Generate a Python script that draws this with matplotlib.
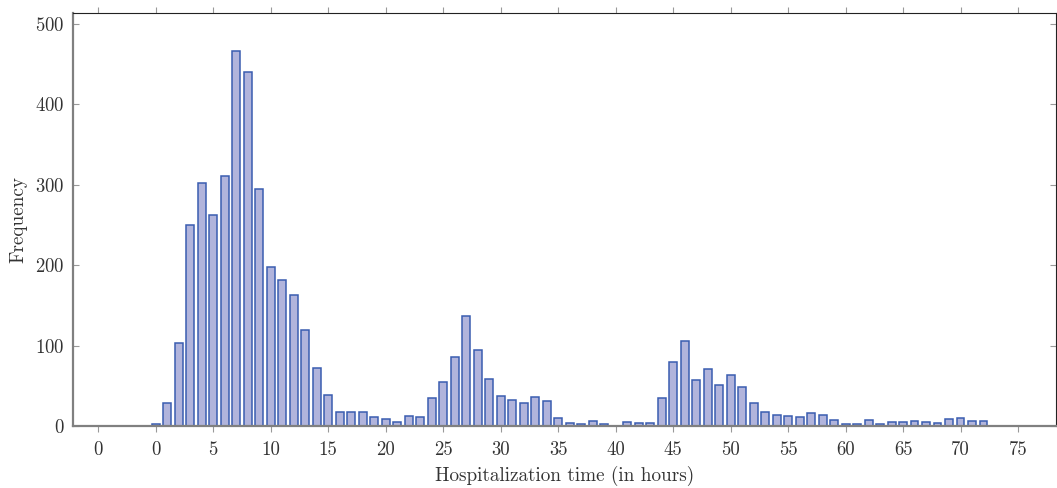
import matplotlib
matplotlib.use("Agg")
import matplotlib.pyplot as plt
import numpy as np

hours = list(range(0, 73))
freq = [3, 29, 103, 250, 302, 262, 311, 466, 440, 294,
        198, 181, 163, 119, 72, 39, 18, 17, 17, 11,
        9, 5, 12, 11, 35, 55, 86, 137, 95, 59,
        37, 32, 29, 36, 31, 10, 4, 2, 6, 3,
        0, 5, 4, 4, 35, 79, 106, 57, 71, 51,
        64, 48, 28, 17, 14, 12, 11, 16, 14, 7,
        3, 2, 7, 3, 5, 5, 6, 5, 4, 9,
        10, 6, 6]
xtick_pos = list(range(-5, 80, 5))
xtick_labels = ["0", "0", "5", "10", "15", "20", "25", "30", "35", "40",
                "45", "50", "55", "60", "65", "70", "75"]
ytick_pos = [0, 100, 200, 300, 400, 500]

plt.rcParams['font.family'] = ['cmr10', 'DejaVu Serif']
plt.rcParams['axes.formatter.use_mathtext'] = True

fig = plt.figure(figsize=(10.57, 4.88), dpi=100)
ax = fig.add_axes([73/1057, 1 - 426/488, (1056 - 73)/1057, (426 - 13.3)/488])

ax.bar(hours, freq, width=0.68, color='#b1b4dc', edgecolor='#3a5db0', linewidth=1.1, zorder=2)

ax.set_xlim(-7.2, 78.3)
ax.set_ylim(0, 513)
ax.set_xticks(xtick_pos)
ax.set_xticklabels(xtick_labels)
ax.set_yticks(ytick_pos)

for s in ['left', 'bottom']:
    ax.spines[s].set_color('#808080')
    ax.spines[s].set_linewidth(1.6)
for s in ['top', 'right']:
    ax.spines[s].set_color('#222222')
    ax.spines[s].set_linewidth(0.8)

ax.tick_params(axis='x', which='both', direction='out', length=4, width=0.8,
               color='#999999', labelsize=13.5, labelcolor='#333333', top=True, pad=7)
ax.tick_params(axis='y', which='both', direction='in', length=4, width=0.8,
               color='#999999', labelsize=13.5, labelcolor='#333333', right=True, pad=6)

ax.set_xlabel('Hospitalization time (in hours)', fontsize=13.8, color='#333333', labelpad=5)
ax.set_ylabel('Frequency', fontsize=13.8, color='#333333', labelpad=6)

fig.savefig('out.png', dpi=100)
